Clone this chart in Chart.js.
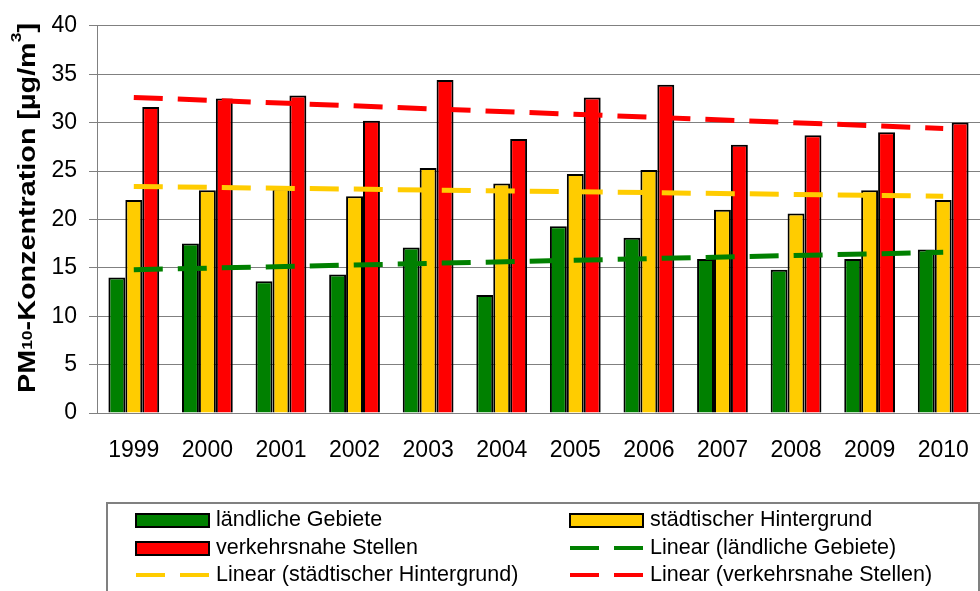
<!DOCTYPE html>
<html>
<head>
<meta charset="utf-8">
<script src="https://cdn.jsdelivr.net/npm/chart.js@4/dist/chart.umd.min.js"></script>
<style>
  html, body { margin: 0; padding: 0; background: #fff; }
  #wrap { width: 980px; height: 591px; }
</style>
</head>
<body>
<div id="wrap"><canvas id="chart" width="980" height="591"></canvas></div>
<script>
// Data
const years = ['1999', '2000', '2001', '2002', '2003', '2004', '2005', '2006', '2007', '2008', '2009', '2010'];
const laendlich = [14.0, 17.5, 13.6, 14.3, 17.1, 12.2, 19.3, 18.1, 15.9, 14.8, 15.9, 16.9];
const staedtisch = [22.0, 23.0, 23.2, 22.4, 25.3, 23.7, 24.7, 25.1, 21.0, 20.6, 23.0, 22.0];
const verkehr = [31.6, 32.5, 32.8, 30.2, 34.4, 28.3, 32.6, 33.9, 27.7, 28.7, 29.0, 30.0];
// trend lines: start (1999) and end (2010) values
const trendLaendlich = [14.8, 16.6];
const trendStaedtisch = [23.4, 22.4];
const trendVerkehr = [32.6, 29.4];
const yTicks = [0, 5, 10, 15, 20, 25, 30, 35, 40];

const GREEN = '#008000';
const YELLOW = '#FFCC00';
const RED = '#FF0000';
const FONT = '"Liberation Sans", Arial, sans-serif';
const DASH = [29, 15];

// only the two end points; the line between them is drawn by Chart.js
function endPoints(pair) {
  return years.map((y, i) => i === 0 ? pair[0] : (i === years.length - 1 ? pair[1] : null));
}

function barSet(label, data, color) {
  return {
    type: 'bar', label, data, order: 1,
    backgroundColor: color, borderColor: '#000', borderWidth: 2,
    categoryPercentage: 0.69, barPercentage: 1.0
  };
}

function trendSet(label, pair, color) {
  return {
    type: 'line', label, data: endPoints(pair), order: 0,
    borderColor: color, backgroundColor: color, borderWidth: 5,
    borderDash: DASH, borderCapStyle: 'butt', spanGaps: true,
    pointRadius: 0, fill: false, tension: 0
  };
}

// rotated y title with sub- and superscript
const yTitlePlugin = {
  id: 'yTitle',
  afterDraw(chart) {
    const ctx = chart.ctx;
    const big = 'bold 23px ' + FONT;
    const small = 'bold 14px ' + FONT;
    const parts = [
      { t: 'PM', f: big, dy: 0 },
      { t: '10', f: small, dy: -3 },
      { t: '-Konzentration [µg/m', f: big, dy: 0 },
      { t: '3', f: small, dy: -14 },
      { t: ']', f: big, dy: 0 }
    ];
    ctx.save();
    let total = 0;
    parts.forEach(p => { ctx.font = p.f; p.w = ctx.measureText(p.t).width; total += p.w; });
    const stretch = 370 / total;
    ctx.translate(35, 208);
    ctx.rotate(-Math.PI / 2);
    ctx.scale(stretch, 1);
    ctx.fillStyle = '#000';
    ctx.textBaseline = 'alphabetic';
    ctx.textAlign = 'left';
    let x = -total / 2;
    parts.forEach(p => { ctx.font = p.f; ctx.fillText(p.t, x, p.dy); x += p.w; });
    ctx.restore();
  }
};

// boxed two-column legend below the chart
const boxLegendPlugin = {
  id: 'boxLegend',
  afterDraw(chart) {
    const ctx = chart.ctx;
    const sets = chart.data.datasets;
    const cols = [{ sw: 136, tx: 216 }, { sw: 570, tx: 650 }];
    const rows = [520, 548, 575];
    ctx.save();
    ctx.strokeStyle = '#808080';
    ctx.lineWidth = 2;
    ctx.strokeRect(107, 503, 872, 110);
    ctx.font = '21.5px ' + FONT;
    ctx.textBaseline = 'middle';
    ctx.fillStyle = '#000';
    sets.forEach((ds, i) => {
      const c = cols[i % 2];
      const y = rows[Math.floor(i / 2)];
      if (ds.type === 'bar') {
        ctx.fillStyle = ds.backgroundColor;
        ctx.fillRect(c.sw, y - 6, 73, 13);
        ctx.strokeStyle = '#000';
        ctx.lineWidth = 2;
        ctx.strokeRect(c.sw, y - 6, 73, 13);
      } else {
        ctx.strokeStyle = ds.borderColor;
        ctx.lineWidth = 4;
        ctx.setLineDash(DASH);
        ctx.lineCap = 'butt';
        ctx.beginPath();
        ctx.moveTo(c.sw, y);
        ctx.lineTo(c.sw + 73, y);
        ctx.stroke();
        ctx.setLineDash([]);
      }
      ctx.fillStyle = '#000';
      ctx.fillText(ds.label, c.tx, y);
    });
    ctx.restore();
  }
};

const ctx = document.getElementById('chart').getContext('2d');
new Chart(ctx, {
  data: {
    labels: years,
    datasets: [
      barSet('ländliche Gebiete', laendlich, GREEN),
      barSet('städtischer Hintergrund', staedtisch, YELLOW),
      barSet('verkehrsnahe Stellen', verkehr, RED),
      trendSet('Linear (ländliche Gebiete)', trendLaendlich, GREEN),
      trendSet('Linear (städtischer Hintergrund)', trendStaedtisch, YELLOW),
      trendSet('Linear (verkehrsnahe Stellen)', trendVerkehr, RED)
    ]
  },
  options: {
    responsive: false,
    animation: false,
    layout: { padding: { top: 22, bottom: 118, left: 0, right: 0 } },
    plugins: {
      legend: { display: false },
      tooltip: { enabled: false }
    },
    scales: {
      x: {
        offset: true,
        grid: { display: true, color: 'rgba(0,0,0,0)', drawOnChartArea: false, drawTicks: true, tickLength: 20 },
        border: { display: true, color: '#808080', width: 1 },
        ticks: { color: '#000', font: { family: FONT, size: 23 }, padding: 4, maxRotation: 0 },
        afterFit: s => { s.height = 60; }
      },
      y: {
        min: 0, max: 40,
        afterBuildTicks: s => { s.ticks = yTicks.map(v => ({ value: v })); },
        grid: { color: '#808080', lineWidth: 1, tickLength: 8, drawTicks: true },
        border: { display: true, color: '#808080', width: 1 },
        ticks: { color: '#000', font: { family: FONT, size: 23 }, padding: 12 },
        afterFit: s => { s.width = 97; }
      }
    }
  },
  plugins: [yTitlePlugin, boxLegendPlugin]
});
</script>
</body>
</html>
